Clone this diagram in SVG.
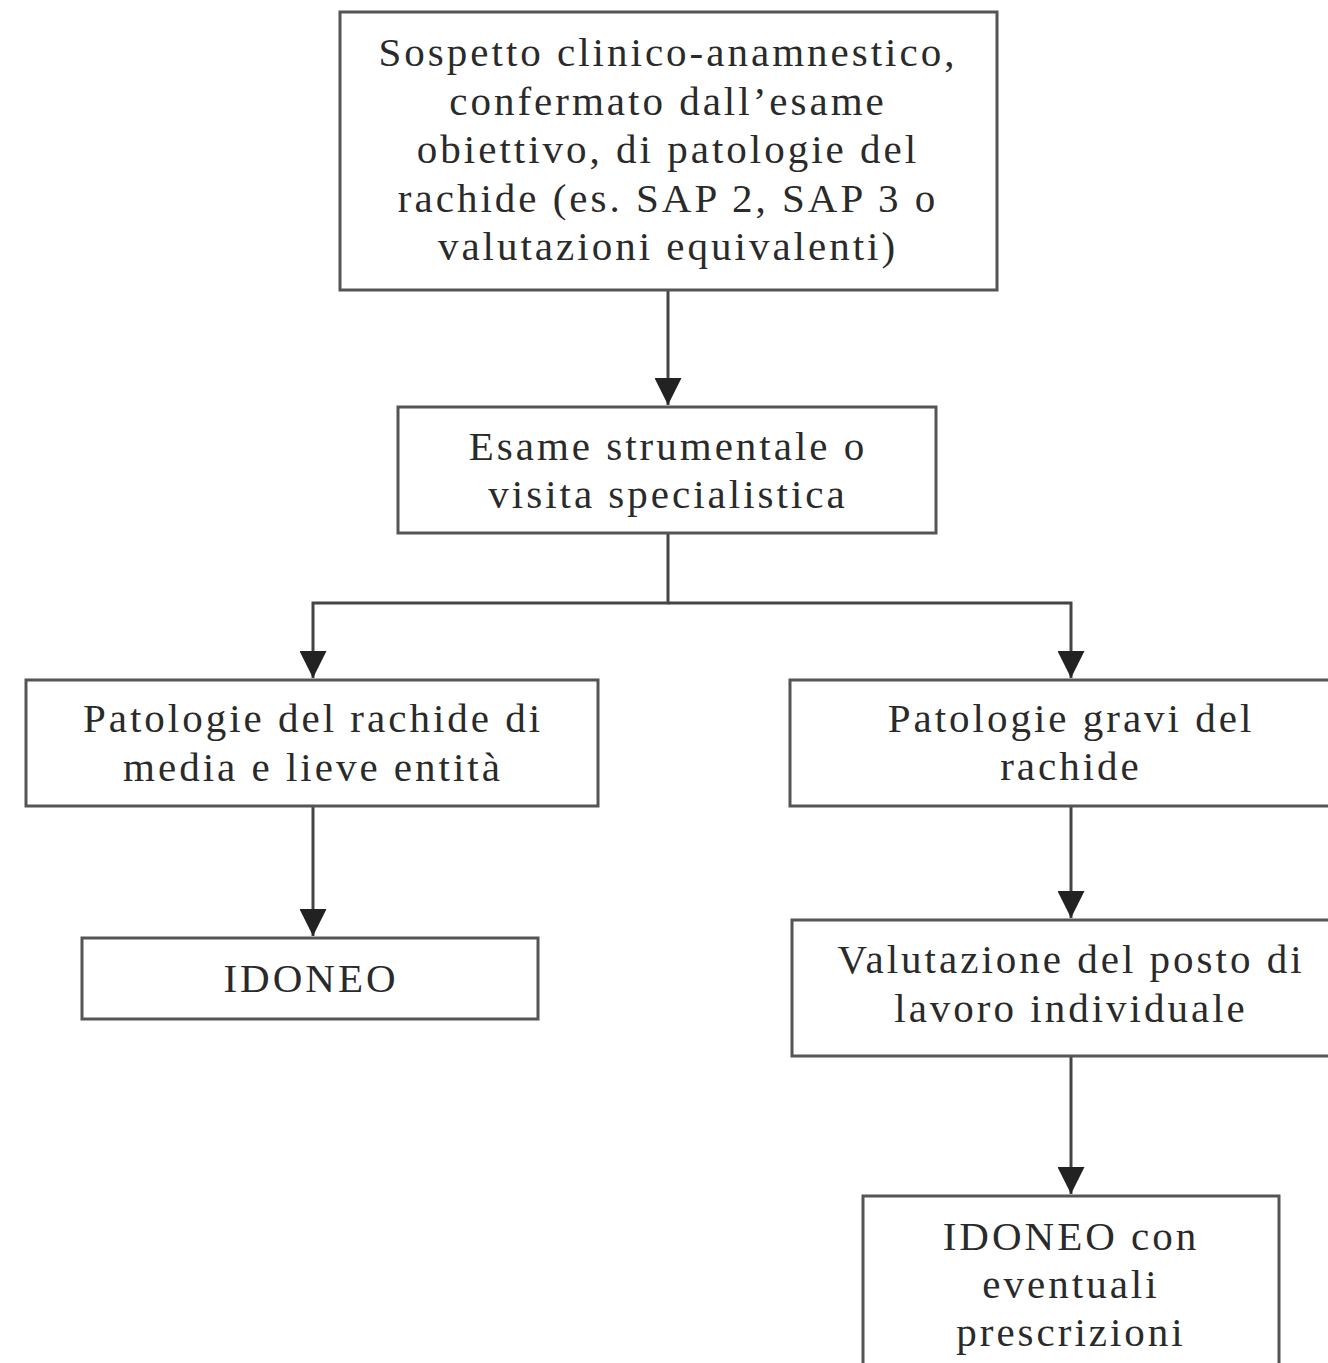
<svg xmlns="http://www.w3.org/2000/svg" width="1328" height="1363" viewBox="0 0 1328 1363">
<defs>
<style>
.box{fill:#fff;stroke:#555;stroke-width:3}
.t{font-family:"Liberation Serif","Times New Roman",serif;font-size:41px;letter-spacing:3px;fill:#2a2a2a;text-anchor:middle}
.c{fill:none;stroke:#444;stroke-width:3}
</style>
<marker id="ah" markerWidth="9" markerHeight="9" refX="9" refY="4.5" orient="auto" markerUnits="strokeWidth">
<path d="M0,0 L9,4.5 L0,9 Z" fill="#222"/>
</marker>
</defs>
<rect width="1328" height="1363" fill="#fff"/>
<g id="connectors">
<path class="c" d="M668,290 V405" marker-end="url(#ah)"/>
<path class="c" d="M668,533 V603 H313 V678" marker-end="url(#ah)"/>
<path class="c" d="M668,603 H1071 V678" marker-end="url(#ah)"/>
<path class="c" d="M313,806 V936" marker-end="url(#ah)"/>
<path class="c" d="M1071,806 V918" marker-end="url(#ah)"/>
<path class="c" d="M1071,1056 V1194" marker-end="url(#ah)"/>
</g>
<g id="n1">
<rect class="box" x="340" y="12" width="657" height="278"/>
<text class="t" x="668" y="66">Sospetto clinico-anamnestico,</text>
<text class="t" x="668" y="115">confermato dall’esame</text>
<text class="t" x="668" y="163">obiettivo, di patologie del</text>
<text class="t" x="668" y="212">rachide (es. SAP 2, SAP 3 o</text>
<text class="t" x="668" y="260">valutazioni equivalenti)</text>
</g>
<g id="n2">
<rect class="box" x="398" y="407" width="538" height="126"/>
<text class="t" x="668" y="460">Esame strumentale o</text>
<text class="t" x="668" y="508">visita specialistica</text>
</g>
<g id="n3">
<rect class="box" x="26" y="680" width="572" height="126"/>
<text class="t" x="313" y="732">Patologie del rachide di</text>
<text class="t" x="313" y="781">media e lieve entità</text>
</g>
<g id="n4">
<rect class="box" x="790" y="680" width="560" height="126"/>
<text class="t" x="1071" y="732">Patologie gravi del</text>
<text class="t" x="1071" y="780">rachide</text>
</g>
<g id="n5">
<rect class="box" x="82" y="938" width="456" height="81"/>
<text class="t" x="311" y="992">IDONEO</text>
</g>
<g id="n6">
<rect class="box" x="792" y="920" width="560" height="136"/>
<text class="t" x="1071" y="973">Valutazione del posto di</text>
<text class="t" x="1071" y="1022">lavoro individuale</text>
</g>
<g id="n7">
<rect class="box" x="863" y="1196" width="416" height="190"/>
<text class="t" x="1071" y="1250">IDONEO con</text>
<text class="t" x="1071" y="1298">eventuali</text>
<text class="t" x="1071" y="1346">prescrizioni</text>
</g>
</svg>
